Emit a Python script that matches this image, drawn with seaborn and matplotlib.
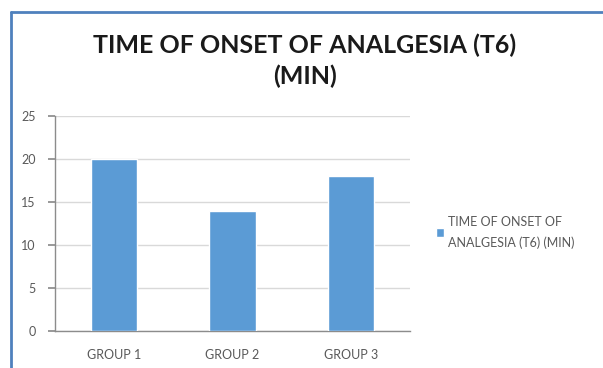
import matplotlib
matplotlib.use("Agg")
import matplotlib.pyplot as plt
from matplotlib.lines import Line2D
import seaborn as sns
import pandas as pd

groups = ["GROUP 1", "GROUP 2", "GROUP 3"]
onset_minutes = [20, 14, 18]
series_name = "TIME OF ONSET OF\nANALGESIA (T6) (MIN)"
title_text = "TIME OF ONSET OF ANALGESIA (T6)\n(MIN)"
y_ticks = [0, 5, 10, 15, 20, 25]

sns.set_theme(style="white")
plt.rcParams["font.family"] = ["Lato", "DejaVu Sans"]

df = pd.DataFrame({"group": groups, "minutes": onset_minutes})

fig = plt.figure(figsize=(6.03, 3.68), dpi=100)
ax = fig.add_axes([0.0912, 0.1005, 0.589, 0.5845])

sns.barplot(data=df, x="group", y="minutes", color="#5b9bd5", saturation=1,
            width=0.39, label=series_name, ax=ax, zorder=3)

ax.set_ylim(0, 25)
ax.set_xlim(-0.5, 2.5)
ax.set_yticks(y_ticks)
ax.set_xlabel("")
ax.set_ylabel("")
ax.yaxis.grid(True, color="#d9d9d9", linewidth=1, zorder=0)
ax.set_axisbelow(True)

for side in ["top", "right"]:
    ax.spines[side].set_visible(False)
for side in ["left", "bottom"]:
    ax.spines[side].set_color("#8c8c8c")
    ax.spines[side].set_linewidth(1)

# Category boundary ticks on the x axis, value ticks on the y axis
ax.set_xticks([0, 1, 2])
ax.set_xticks([-0.5, 0.5, 1.5, 2.5], minor=True)
ax.tick_params(axis="x", which="major", length=0, pad=13, labelsize=9, labelcolor="#595959")
ax.tick_params(axis="x", which="minor", length=5, color="#8c8c8c", direction="out")
ax.tick_params(axis="y", length=5, color="#8c8c8c", direction="out", pad=9,
               labelsize=9, labelcolor="#595959", left=True)

fig.text(0.505, 0.835, title_text, ha="center", va="center", fontsize=18,
         fontweight="bold", color="#1a1a1a", linespacing=1.4)

leg = ax.legend(loc="center left", bbox_to_anchor=(1.04, 0.46), frameon=False,
                fontsize=9, handlelength=0.7, handleheight=0.7, handletextpad=0.3,
                labelcolor="#595959")
for t in leg.get_texts():
    t.set_linespacing(1.8)

# Chart frame: left and top edges
frame_color = "#4f81bd"
fig.add_artist(Line2D([0.0175, 0.0175], [0.0, 0.967], transform=fig.transFigure,
                      color=frame_color, linewidth=2))
fig.add_artist(Line2D([0.0175, 1.0], [0.967, 0.967], transform=fig.transFigure,
                      color=frame_color, linewidth=2))

fig.savefig("out.png", dpi=100, facecolor="white")
